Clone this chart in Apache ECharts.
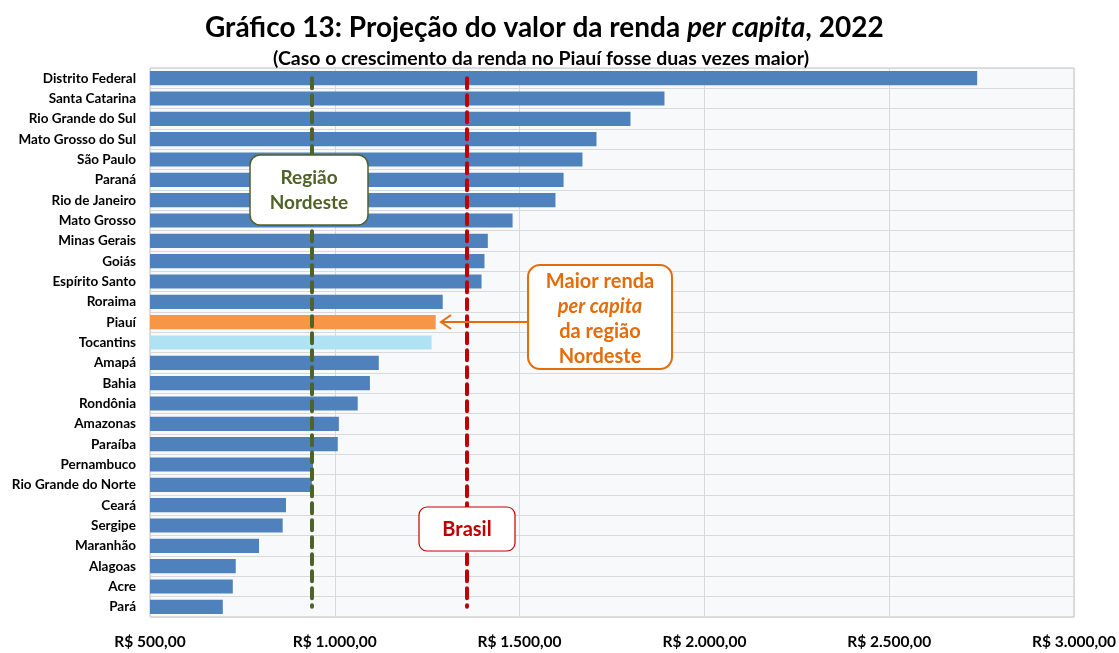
<!DOCTYPE html>
<html>
<head>
<meta charset="utf-8">
<script src="https://cdn.jsdelivr.net/npm/echarts@6/dist/echarts.min.js"></script>
<style>
  html, body { margin: 0; padding: 0; background: #fff; }
  #main { width: 1119px; height: 653px; }
</style>
</head>
<body>
<div id="main"></div>
<script>
// estados, do maior para o menor valor projetado
const estados = ['Distrito Federal', 'Santa Catarina', 'Rio Grande do Sul', 'Mato Grosso do Sul', 'São Paulo',
  'Paraná', 'Rio de Janeiro', 'Mato Grosso', 'Minas Gerais', 'Goiás', 'Espírito Santo', 'Roraima', 'Piauí',
  'Tocantins', 'Amapá', 'Bahia', 'Rondônia', 'Amazonas', 'Paraíba', 'Pernambuco', 'Rio Grande do Norte',
  'Ceará', 'Sergipe', 'Maranhão', 'Alagoas', 'Acre', 'Pará']
// renda per capita projetada (R$)
const renda = [2738, 1892, 1800, 1708, 1670, 1619, 1597, 1481, 1414, 1405, 1397, 1292, 1273,
  1262, 1119, 1095, 1062, 1011, 1008, 941, 938, 868, 859, 795, 732, 724, 697]
const mediaNordeste = 938
const mediaBrasil = 1357
const ticksX = [500, 1000, 1500, 2000, 2500, 3000]

const FONT = 'Lato'
const corEstado = { 'Piauí': '#f79646', 'Tocantins': '#b0e2f5' }

const fmtReal = v => 'R$ ' + v.toLocaleString('pt-BR', { minimumFractionDigits: 2, maximumFractionDigits: 2 })

// linha vertical tracejada do primeiro ao último estado
const linhaMedia = (v, cor) => {
  const ls = { color: cor, width: 4, type: [10, 7], cap: 'round' }
  return [
    { xAxis: v, yAxis: estados[0], lineStyle: ls },
    { xAxis: v, yAxis: estados[estados.length - 1], lineStyle: ls }
  ]
}

const chart = echarts.init(document.getElementById('main'))

const option = {
  animation: false,
  textStyle: { fontFamily: FONT },
  title: [
    {
      left: 200, top: 9,
      text: '{a|Gráfico 13: Projeção do valor da renda }{i|per capita}{a|, 2022}',
      textStyle: {
        rich: {
          a: { fontFamily: FONT, fontSize: 28, fontWeight: 'bold', color: '#000' },
          i: { fontFamily: FONT, fontSize: 28, fontWeight: 'bold', fontStyle: 'italic', color: '#000' }
        }
      }
    },
    {
      left: 268, top: 44,
      text: '(Caso o crescimento da renda no Piauí fosse duas vezes maior)',
      textStyle: { fontFamily: FONT, fontSize: 19.5, fontWeight: 'bold', color: '#000' }
    }
  ],
  grid: {
    left: 150, right: 44, top: 68, bottom: 36,
    show: true, backgroundColor: '#f8f9fb', borderColor: '#bfbfbf', borderWidth: 1
  },
  xAxis: {
    type: 'value',
    min: ticksX[0], max: ticksX[ticksX.length - 1], interval: 500,
    axisLine: { show: false },
    axisTick: { show: false },
    splitLine: { lineStyle: { color: '#d9d9d9', width: 1 } },
    axisLabel: {
      margin: 17, fontSize: 15.5, fontWeight: 'bold', color: '#000', fontFamily: FONT,
      formatter: fmtReal
    }
  },
  yAxis: {
    type: 'category',
    inverse: true,
    data: estados,
    axisLine: { show: false },
    axisTick: { show: false },
    splitLine: { show: true, lineStyle: { color: '#d9d9d9', width: 1 } },
    axisLabel: { margin: 14, fontSize: 13.5, fontWeight: 'bold', color: '#000', fontFamily: FONT }
  },
  series: [
    {
      type: 'bar',
      barWidth: '70%',
      data: renda.map((v, i) => ({
        value: v,
        itemStyle: { color: corEstado[estados[i]] || '#4f81bd' }
      })),
      markLine: {
        silent: true,
        symbol: 'none',
        label: { show: false },
        data: [
          linhaMedia(mediaNordeste, '#4f6228'),
          linhaMedia(mediaBrasil, '#c00000')
        ]
      }
    }
  ],
  graphic: [
    // caixa Região Nordeste
    {
      type: 'rect', z: 100,
      shape: { x: 250, y: 155, width: 118, height: 70, r: 10 },
      style: { fill: '#fff', stroke: '#4f6228', lineWidth: 1.5 }
    },
    {
      type: 'text', z: 101, x: 309, y: 190,
      style: {
        text: 'Região\nNordeste', align: 'center', verticalAlign: 'middle',
        fontFamily: FONT, fontSize: 19, fontWeight: 'bold', lineHeight: 25, fill: '#4f6228'
      }
    },
    // caixa Maior renda
    {
      type: 'line', z: 100,
      shape: { x1: 528, y1: 322, x2: 441, y2: 322 },
      style: { stroke: '#e46c0a', lineWidth: 2 }
    },
    {
      type: 'polyline', z: 100,
      shape: { points: [[451, 315], [441, 322], [451, 329]] },
      style: { stroke: '#e46c0a', lineWidth: 2, fill: null }
    },
    {
      type: 'rect', z: 100,
      shape: { x: 528, y: 265, width: 144, height: 104, r: 12 },
      style: { fill: '#fff', stroke: '#e46c0a', lineWidth: 2 }
    },
    {
      type: 'text', z: 101, x: 600, y: 319,
      style: {
        text: '{b|Maior renda}\n{i|per capita}\n{b|da região}\n{b|Nordeste}',
        align: 'center', verticalAlign: 'middle', fill: '#e46c0a',
        rich: {
          b: { fontFamily: FONT, fontSize: 20, fontWeight: 'bold', lineHeight: 25, fill: '#e46c0a' },
          i: { fontFamily: FONT, fontSize: 20, fontWeight: 'bold', fontStyle: 'italic', lineHeight: 25, fill: '#e46c0a' }
        }
      }
    },
    // caixa Brasil
    {
      type: 'rect', z: 100,
      shape: { x: 419, y: 507, width: 96, height: 44, r: 8 },
      style: { fill: '#fff', stroke: '#c00000', lineWidth: 1.2 }
    },
    {
      type: 'text', z: 101, x: 467, y: 530,
      style: {
        text: 'Brasil', align: 'center', verticalAlign: 'middle',
        fontFamily: FONT, fontSize: 20, fontWeight: 'bold', fill: '#c00000'
      }
    }
  ]
}

chart.setOption(option)
</script>
</body>
</html>
